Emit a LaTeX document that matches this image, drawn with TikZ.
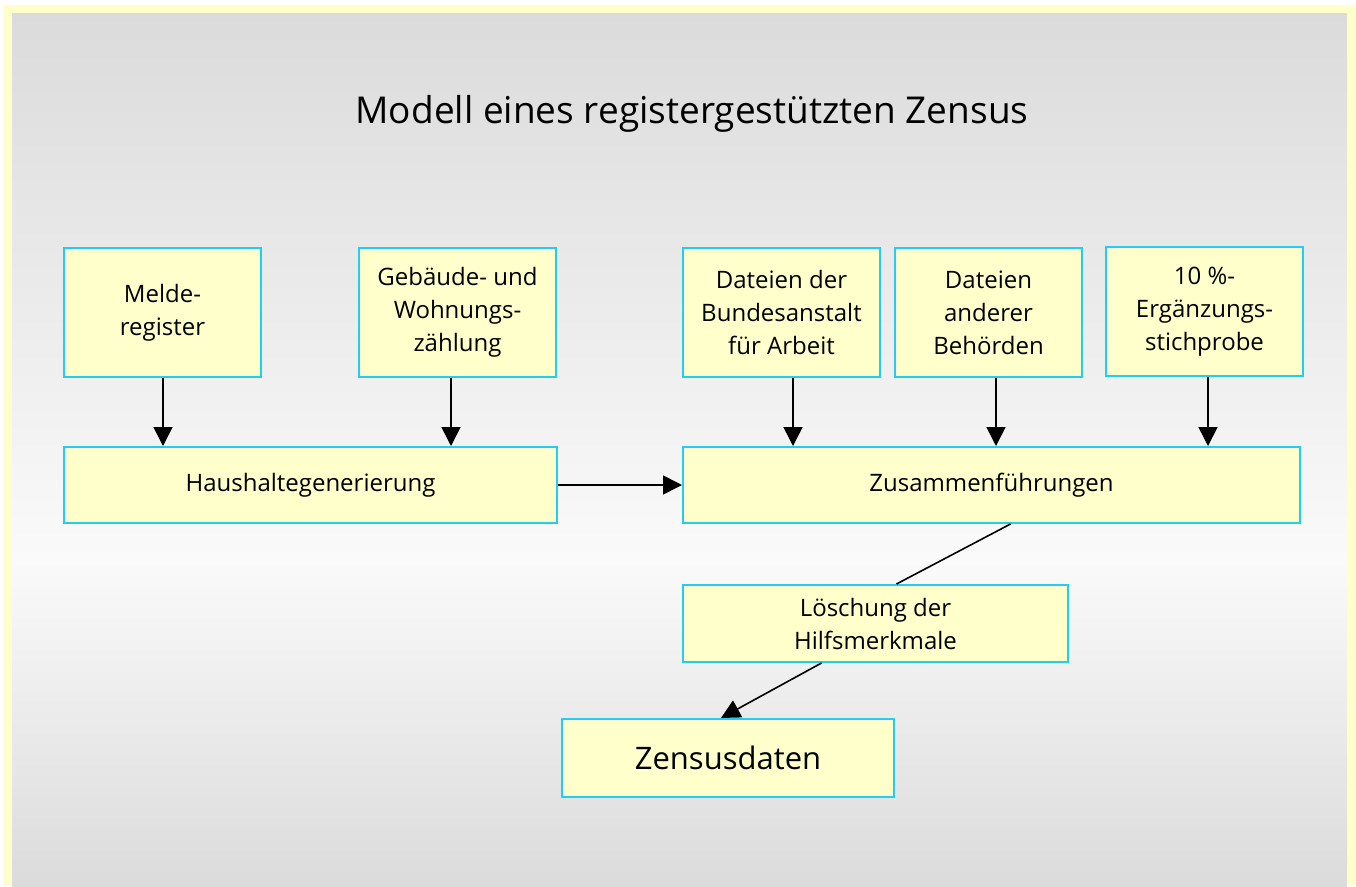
\documentclass[tikz,border=0pt]{standalone}
\usepackage{fontspec}
\setmainfont{Open Sans}
\usetikzlibrary{arrows.meta,calc}
\definecolor{boxfill}{HTML}{FFFFCC}
\definecolor{boxline}{HTML}{22CCF2}
\definecolor{bgdark}{HTML}{DBDBDB}
\definecolor{bglight}{HTML}{FAFAFA}
\definecolor{frame}{HTML}{FFFFCC}
\tikzset{
  stepbox/.style={draw=boxline, fill=boxfill, line width=2pt, inner sep=0pt,
    anchor=north west, align=center, font=\fontsize{24}{33}\selectfont},
  arr/.style={line width=1.6pt, -{Triangle[length=19pt,width=19pt]}},
  plain/.style={line width=1.6pt}
}
\begin{document}
\begin{tikzpicture}[x=1pt,y=-1pt]
\useasboundingbox (0,0) rectangle (1356,886);
\fill[white] (0,0) rectangle (1356,886);
\fill[frame] (3,5) rectangle (1356,886);
\shade[top color=bgdark, bottom color=bglight] (12,13) rectangle (1347,560);
\shade[top color=bglight, bottom color=bgdark] (12,560) rectangle (1347,886);

\node[font=\fontsize{37}{44}\selectfont, anchor=base] (title) at (692,123) {Modell eines registergestützten Zensus};

\node[stepbox, minimum width=197pt, minimum height=129pt] (melde) at (63,247) {Melde-\\register};
\node[stepbox, minimum width=197pt, minimum height=129pt] (geb) at (358,247) {Gebäude- und\\Wohnungs-\\zählung};
\node[stepbox, minimum width=197pt, minimum height=129pt] (ba) at (682,247) {Dateien der\\Bundesanstalt\\für Arbeit};
\node[stepbox, minimum width=187pt, minimum height=129pt] (and) at (894,247) {Dateien\\anderer\\Behörden};
\node[stepbox, minimum width=197pt, minimum height=129pt] (erg) at (1105,246) {10 \%-\\Ergänzungs-\\stichprobe};

\node[stepbox, minimum width=493pt, minimum height=76pt] (haus) at (63,446) {Haushaltegenerierung};
\node[stepbox, minimum width=617pt, minimum height=76pt] (zus) at (682,446) {Zusammenführungen};
\node[stepbox, minimum width=385pt, minimum height=77pt] (loe) at (682,584) {Löschung der\\Hilfsmerkmale};
\node[stepbox, minimum width=332pt, minimum height=78pt, font=\fontsize{31}{36}\selectfont] (zen) at (561,718) {Zensusdaten};

\draw[arr] ([xshift=0.5pt]melde.south) -- ([xshift=0.5pt]melde.south |- haus.north);
\draw[arr] ([xshift=-6.5pt]geb.south) -- ([xshift=-6.5pt]geb.south |- haus.north);
\draw[arr] ([xshift=11.5pt]ba.south) -- ([xshift=11.5pt]ba.south |- zus.north);
\draw[arr] ([xshift=7.5pt]and.south) -- ([xshift=7.5pt]and.south |- zus.north);
\draw[arr] ([xshift=3.5pt]erg.south) -- ([xshift=3.5pt]erg.south |- zus.north);
\draw[arr] (haus.east) -- (zus.west);
\draw[plain] ([xshift=19pt]zus.south) -- ([xshift=21pt]loe.north);
\draw[arr] ([xshift=-54pt]loe.south) -- ([xshift=-7pt]zen.north);
\end{tikzpicture}
\end{document}
